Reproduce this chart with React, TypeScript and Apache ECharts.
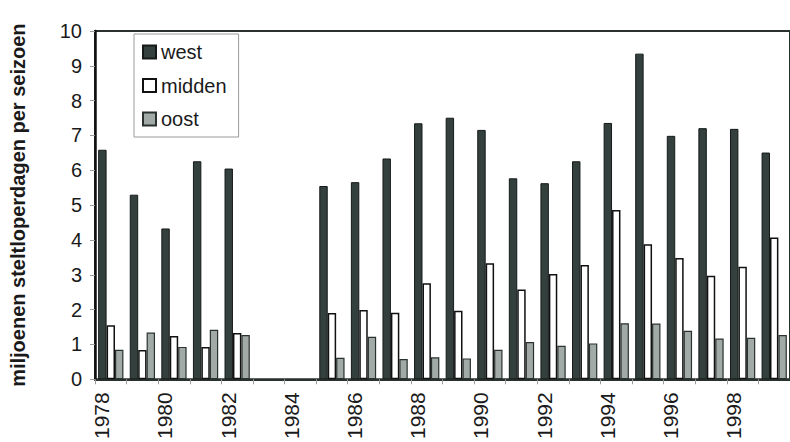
import React, { useEffect, useRef } from "react";
import * as echarts from "echarts";

const years = [
  "1978", "1979", "1980", "1981", "1982", "1983", "1984", "1985", "1986", "1987", "1988",
  "1989", "1990", "1991", "1992", "1993", "1994", "1995", "1996", "1997", "1998", "1999",
];
const west = [6.59, 5.3, 4.33, 6.26, 6.05, null, null, 5.55, 5.66, 6.34, 7.35, 7.51, 7.16, 5.77, 5.63, 6.26, 7.36, 9.35, 6.99, 7.21, 7.19, 6.51];
const midden = [1.55, 0.84, 1.24, 0.93, 1.33, null, null, 1.9, 1.99, 1.91, 2.76, 1.97, 3.33, 2.58, 3.02, 3.28, 4.86, 3.88, 3.48, 2.97, 3.23, 4.07];
const oost = [0.85, 1.34, 0.93, 1.42, 1.27, null, null, 0.62, 1.22, 0.58, 0.63, 0.6, 0.85, 1.07, 0.96, 1.03, 1.61, 1.6, 1.39, 1.17, 1.19, 1.27];

const FONT = "Liberation Sans, Arial, sans-serif";

export default function App() {
  const ref = useRef<HTMLDivElement>(null);
  useEffect(() => {
    if (!ref.current) return;
    const chart = echarts.init(ref.current, null, { renderer: "svg" });
    chart.setOption({
      animation: false,
      backgroundColor: "#ffffff",
      textStyle: { fontFamily: FONT },
      grid: {
        left: 89,
        top: 31,
        width: 708,
        height: 351,
        show: true,
        borderColor: "#2a3230",
        borderWidth: 2,
        containLabel: false,
      },
      legend: {
        show: true,
        orient: "vertical",
        left: 134,
        top: 34,
        padding: [7, 12, 7, 8],
        itemGap: 11.5,
        itemWidth: 13,
        itemHeight: 13,
        borderColor: "#9a9a9a",
        borderWidth: 1,
        icon: "rect",
        textStyle: { fontFamily: FONT, fontSize: 20, color: "#1a1a1a", lineHeight: 22 },
        data: ["west", "midden", "oost"],
      },
      xAxis: {
        type: "category",
        data: years,
        boundaryGap: true,
        axisLine: { show: true, lineStyle: { color: "#2a3230", width: 2 } },
        axisTick: { show: true, interval: 0, length: 5, lineStyle: { color: "#9a9a9a" } },
        axisLabel: {
          interval: 1,
          rotate: 90,
          margin: 13,
          fontSize: 21,
          lineHeight: 18,
          color: "#1a1a1a",
          fontFamily: FONT,
          formatter: (v: string) => v + "\n ",
        },
        splitLine: { show: false },
      },
      yAxis: {
        type: "value",
        min: 0,
        max: 10,
        interval: 1,
        name: "miljoenen steltloperdagen per seizoen",
        nameLocation: "middle",
        nameGap: 67,
        nameTextStyle: { fontFamily: FONT, fontSize: 20, fontWeight: "bold", color: "#1a1a1a" },
        axisLine: { show: true, lineStyle: { color: "#111", width: 2.5 } },
        axisTick: { show: true, length: 5, lineStyle: { color: "#9a9a9a" } },
        axisLabel: { fontSize: 20, color: "#1a1a1a", margin: 13, fontFamily: FONT },
        splitLine: { show: false },
      },
      series: [
        {
          name: "west",
          type: "bar",
          data: west,
          barGap: "0%",
          barCategoryGap: "20%",
          itemStyle: { color: "#33403d", borderColor: "#151a19", borderWidth: 1 },
        },
        {
          name: "midden",
          type: "bar",
          data: midden,
          itemStyle: { color: "#ffffff", borderColor: "#111111", borderWidth: 1.5 },
        },
        {
          name: "oost",
          type: "bar",
          data: oost,
          itemStyle: { color: "#a2aaa7", borderColor: "#2a3230", borderWidth: 1.2 },
        },
      ],
    });
    return () => chart.dispose();
  }, []);
  return (
    <div
      ref={ref}
      style={{ position: "fixed", left: 0, top: 0, width: 790, height: 442 }}
    />
  );
}
